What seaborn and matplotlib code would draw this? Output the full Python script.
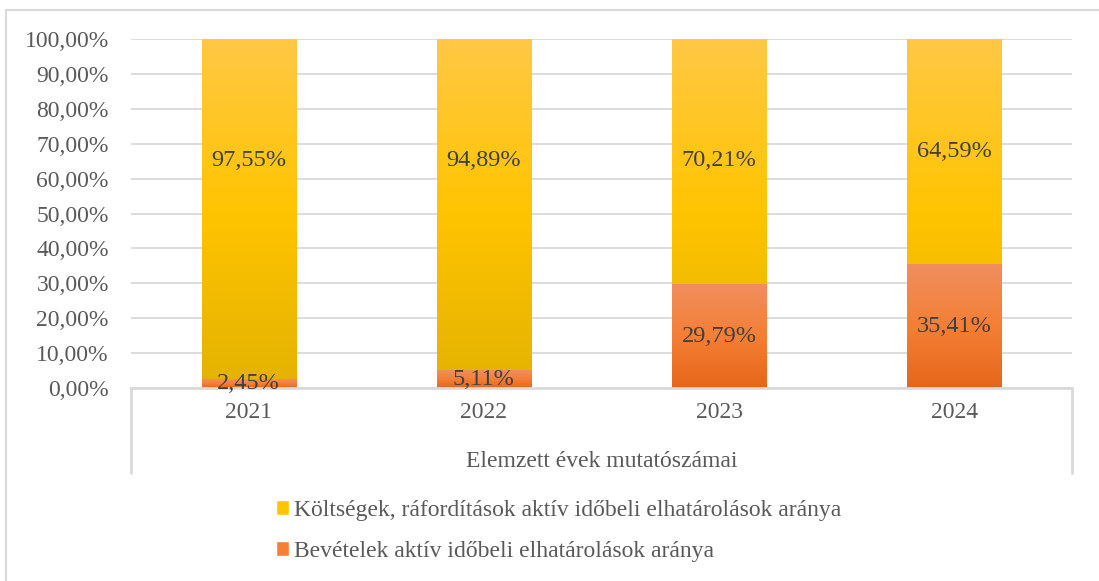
import numpy as np
import pandas as pd
import seaborn as sns
import matplotlib.pyplot as plt
from matplotlib.colors import LinearSegmentedColormap
from matplotlib.lines import Line2D
from matplotlib.patches import Patch

years = ['2021', '2022', '2023', '2024']
koltseg = [97.55, 94.89, 70.21, 64.59]
bevetel = [2.45, 5.11, 29.79, 35.41]
koltseg_label = 'Költségek, ráfordítások aktív időbeli elhatárolások aránya'
bevetel_label = 'Bevételek aktív időbeli elhatárolások aránya'
y_ticks = [0, 10, 20, 30, 40, 50, 60, 70, 80, 90, 100]

df = pd.DataFrame({'ev': years, 'koltseg': koltseg, 'bevetel': bevetel})
df['osszes'] = df['koltseg'] + df['bevetel']

sns.set_style('white')
plt.rcParams['font.family'] = ['Liberation Serif', 'DejaVu Serif']

grid_c = '#D9D9D9'
text_c = '#595959'
label_c = '#404040'
yellow = ('#E3B200', '#FFC400', '#FFC845')   # bottom, middle, top
orange = ('#E5661A', '#F47F35', '#F08E5E')

fig = plt.figure(figsize=(10.99, 5.81), dpi=100)
W, H = 1099, 581
ax = fig.add_axes([131 / W, (H - 388) / H, (1072 - 131) / W, 349 / H])

sns.barplot(data=df, x='ev', y='osszes', order=years, color=yellow[1],
            width=0.4, ax=ax, zorder=3)
yellow_patches = list(ax.patches)
sns.barplot(data=df, x='ev', y='bevetel', order=years, color=orange[1],
            width=0.4, ax=ax, zorder=3)
orange_patches = [p for p in ax.patches if p not in yellow_patches]


def gradient(patch, cols):
    x0, y0 = patch.get_x(), patch.get_y()
    w, h = patch.get_width(), patch.get_height()
    cmap = LinearSegmentedColormap.from_list('g', list(cols))
    img = ax.imshow(np.linspace(0, 1, 256).reshape(-1, 1), cmap=cmap,
                    extent=[x0, x0 + w, y0, y0 + h], origin='lower',
                    aspect='auto', zorder=3.5)
    img.set_clip_path(patch)
    patch.set_facecolor('none')
    patch.set_edgecolor('none')


for p in yellow_patches:
    gradient(p, yellow)
for p in orange_patches:
    gradient(p, orange)

ax.set_xlim(-0.5, 3.5)
ax.set_ylim(0, 100)
ax.set_yticks(y_ticks)
ax.set_yticklabels([f'{v:.2f}%'.replace('.', ',') for v in y_ticks])
ax.yaxis.grid(True, color=grid_c, lw=1.3, zorder=0)
ax.set_axisbelow(True)
for s in ['top', 'right', 'left']:
    ax.spines[s].set_visible(False)
ax.spines['bottom'].set_color(grid_c)
ax.spines['bottom'].set_linewidth(2)
ax.spines['bottom'].set_zorder(4)
ax.tick_params(axis='y', length=0, pad=16, labelsize=17, labelcolor=text_c)
ax.tick_params(axis='x', length=0, pad=10, labelsize=17, labelcolor=text_c)
ax.set_xlabel('Elemzett évek mutatószámai', fontsize=17, color=text_c, labelpad=20)
ax.set_ylabel('')

# data labels (the upper labels of the first two bars sit higher in the original)
for i in range(len(years)):
    bot = bevetel[i]
    ax.text(i, bot / 2, f'{bevetel[i]:.2f}%'.replace('.', ','), ha='center',
            va='center', fontsize=17.5, color=label_c, zorder=5)
    ymid = max(bot + koltseg[i] / 2, 65.3)
    ax.text(i, ymid, f'{koltseg[i]:.2f}%'.replace('.', ','), ha='center',
            va='center', fontsize=17.5, color=label_c, zorder=5)

# category table borders under the axis
for xa in (0, 1):
    ax.add_line(Line2D([xa, xa], [0, -85 / 349], transform=ax.transAxes,
                       color=grid_c, lw=2, clip_on=False))

# outer chart frame (only left and top visible)
fig.add_artist(Line2D([6 / W, 6 / W], [0, 1 - 10 / H], color=grid_c, lw=1.5))
fig.add_artist(Line2D([6 / W, 1], [1 - 10 / H, 1 - 10 / H], color=grid_c, lw=1.5))

handles = [Patch(facecolor=yellow[1]), Patch(facecolor=orange[1])]
fig.legend(handles, [koltseg_label, bevetel_label], loc='upper left',
           bbox_to_anchor=(264 / W, 1 - 488 / H), frameon=False, fontsize=17,
           labelcolor=text_c, handlelength=0.55, handleheight=0.55,
           handletextpad=0.2, labelspacing=0.85, borderpad=0)

fig.savefig('out.png', dpi=100)
